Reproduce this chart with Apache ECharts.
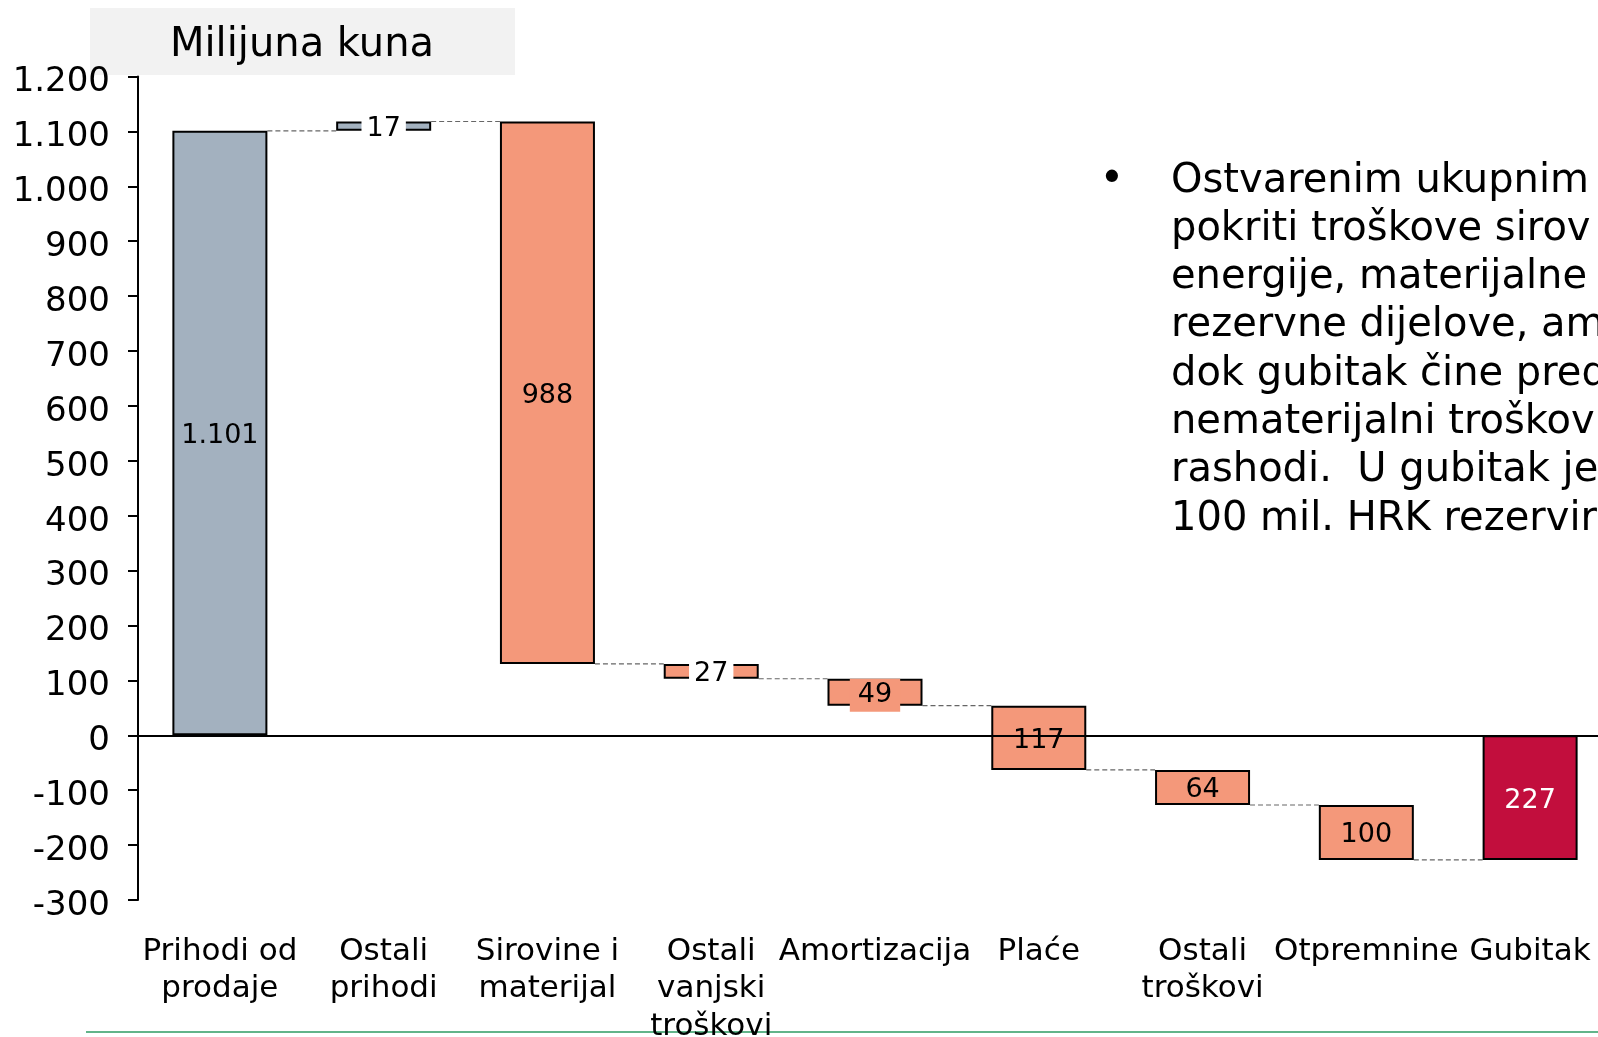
<!DOCTYPE html>
<html lang="hr">
<head>
<meta charset="UTF-8">
<title>Milijuna kuna</title>
<script src="https://cdn.jsdelivr.net/npm/echarts@6/dist/echarts.min.js"></script>
<style>
  html, body { margin: 0; height: 100%; background: #fff; }
  #container { width: 1598px; height: 1037px; }
</style>
</head>
<body>
<div id="container"></div>
<script>
// podaci
var categories = ['Prihodi od\nprodaje', 'Ostali\nprihodi', 'Sirovine i\nmaterijal', 'Ostali\nvanjski\ntroškovi',
    'Amortizacija', 'Plaće', 'Ostali\ntroškovi', 'Otpremnine', 'Gubitak'];
var changes = [1101, 17, -988, -27, -49, -117, -64, -100, -227];
var isTotal = [true, false, false, false, false, false, false, false, true];
var barColors = ['#A3B1BF', '#A3B1BF', '#F4987A', '#F4987A', '#F4987A', '#F4987A', '#F4987A', '#F4987A', '#C20E3D'];
var yTicks = { min: -300, max: 1200, step: 100 };

var bulletLines = [
    'Ostvarenim ukupnim',
    'pokriti troškove sirov',
    'energije, materijalne',
    'rezervne dijelove, am',
    'dok gubitak čine pred',
    'nematerijalni troškov',
    'rashodi.  U gubitak je',
    '100 mil. HRK rezervir'
];

var FONT = '"DejaVu Sans", Verdana, sans-serif';

function fmt(v) {
    var s = String(Math.abs(v)).replace(/\B(?=(\d{3})+(?!\d))/g, '.');
    return (v < 0 ? '-' : '') + s;
}

// waterfall: base (transparent) + change
var bases = [], ends = [], run = 0;
changes.forEach(function (c, i) {
    var start = isTotal[i] ? 0 : run;
    bases.push(start);
    run = start + c;
    ends.push(run);
});

var BAR_W = 95;

var deltaData = changes.map(function (c, i) {
    var lab = { color: '#000' };
    if (i === 1 || i === 3) {
        lab.backgroundColor = '#fff';
        lab.padding = [0, 5];
    } else if (i === 4) {
        lab.backgroundColor = barColors[i];
        lab.padding = [3, 8];
    } else if (i === 8) {
        lab.color = '#fff';
    }
    return { value: c, itemStyle: { color: barColors[i] }, label: lab };
});

var chart = echarts.init(document.getElementById('container'));

var option = {
    animation: false,
    grid: { left: 138, width: 1474, top: 76.5, bottom: 137, outerBoundsMode: 'none', containLabel: false },
    xAxis: {
        type: 'category',
        data: categories,
        axisLine: { show: false, onZero: false },
        axisTick: { show: false },
        axisLabel: {
            interval: 0,
            margin: 33,
            color: '#000',
            fontFamily: FONT,
            fontSize: 31,
            lineHeight: 37.5
        }
    },
    yAxis: {
        type: 'value',
        min: yTicks.min,
        max: yTicks.max,
        interval: yTicks.step,
        splitLine: { show: false },
        axisLine: { show: true, lineStyle: { color: '#000', width: 2 } },
        axisTick: { show: true, length: 10, lineStyle: { color: '#000', width: 2 } },
        axisLabel: {
            margin: 28,
            color: '#000',
            fontFamily: FONT,
            fontSize: 34,
            formatter: function (v) { return '{v|' + fmt(v) + '}'; },
            rich: {
                v: { fontFamily: FONT, fontSize: 34, color: '#000', padding: [12, 0, 0, 0] }
            }
        }
    },
    series: [{
        type: 'bar',
        stack: 'wf',
        stackStrategy: 'all',
        barWidth: BAR_W,
        silent: true,
        itemStyle: { color: 'transparent', borderWidth: 0 },
        data: bases,
        markLine: {
            silent: true,
            symbol: 'none',
            label: { show: false },
            lineStyle: { color: '#000', width: 2, type: 'solid' },
            data: [{ yAxis: 0 }]
        }
    }, {
        type: 'bar',
        stack: 'wf',
        stackStrategy: 'all',
        barWidth: BAR_W,
        z: 3,
        itemStyle: { borderColor: '#000', borderWidth: 2 },
        label: {
            show: true,
            position: 'inside',
            offset: [0, 3],
            fontFamily: FONT,
            fontSize: 27,
            formatter: function (p) { return fmt(Math.abs(p.value)); }
        },
        data: deltaData
    }, {
        // spojne crtkane linije
        type: 'custom',
        z: 2,
        silent: true,
        data: ends.slice(0, ends.length - 1).map(function (v, i) { return [i, v]; }),
        renderItem: function (params, api) {
            var i = api.value(0), lvl = api.value(1);
            var a = api.coord([i, lvl]);
            var b = api.coord([i + 1, lvl]);
            return {
                type: 'line',
                shape: { x1: a[0] + BAR_W / 2, y1: a[1], x2: b[0] - BAR_W / 2, y2: b[1] },
                style: { stroke: '#666', lineWidth: 1.2, lineDash: [5, 3] }
            };
        }
    }],
    graphic: [
        { type: 'rect', left: 90, top: 8, shape: { width: 425, height: 67 }, style: { fill: '#F2F2F2' }, z: -1 },
        { type: 'text', x: 302, y: 46, style: { text: 'Milijuna kuna', font: '40px ' + FONT, fill: '#000', align: 'center', verticalAlign: 'middle' } },
        { type: 'text', x: 1112, y: 181, style: { text: '•', font: '42px ' + FONT, fill: '#000', align: 'center', verticalAlign: 'middle' } },
        { type: 'text', x: 1171, y: 157, style: { text: bulletLines.join('\n'), font: '40px ' + FONT, lineHeight: 48.3, fill: '#000', align: 'left', verticalAlign: 'top' } },
        { type: 'line', shape: { x1: 86, y1: 1032, x2: 1598, y2: 1032 }, style: { stroke: '#2E9B63', lineWidth: 1.5 } }
    ]
};

chart.setOption(option);
</script>
</body>
</html>
